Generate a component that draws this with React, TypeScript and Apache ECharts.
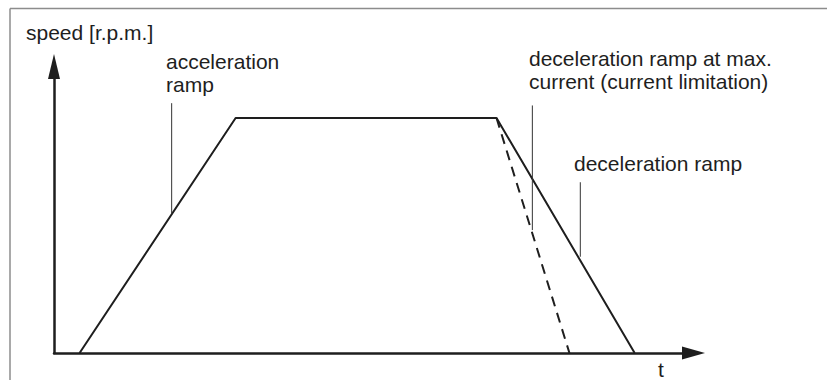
import React, { useEffect, useRef } from "react";
import * as echarts from "echarts";

// profile: time (arbitrary units 0..100) vs speed (0..100)
const rampTime = [4, 28.4, 69.2, 90.8];
const rampSpeed = [0, 82, 82, 0];
const limitTime = [69.2, 80.6];
const limitSpeed = [82, 0];

// leader lines (time, speed pairs)
const accLeaderTime = [18.4, 18.4];
const accLeaderSpeed = [87.2, 48.6];
const limLeaderTime = [74.8, 74.8];
const limLeaderSpeed = [86.4, 42.9];
const decLeaderTime = [82.3, 82.3];
const decLeaderSpeed = [59.6, 33.6];

const yAxisTitle = "speed [r.p.m.]";
const xAxisTitle = "t";
const accLabel = ["acceleration", "ramp"];
const limLabel = ["deceleration ramp at max.", "current (current limitation)"];
const decLabel = ["deceleration ramp"];

const FONT = "'Liberation Sans', Arial, Helvetica, sans-serif";
const INK = "#1e1e1e";

function pairs(xs: number[], ys: number[]) {
  return xs.map((x, i) => [x, ys[i]]);
}

export default function App() {
  const ref = useRef<HTMLDivElement>(null);
  useEffect(() => {
    if (!ref.current) return;
    const chart = echarts.init(ref.current, null, { renderer: "svg" });
    const txt = (text: string, x: number, y: number, align = "left") => ({
      type: "text",
      x,
      y,
      style: {
        text,
        fill: INK,
        font: `21px ${FONT}`,
        align,
        verticalAlign: "top",
        lineHeight: 23,
      },
    });
    const lineSeries = (xs: number[], ys: number[], width: number, type: any = "solid", color = INK) => ({
      type: "line",
      data: pairs(xs, ys),
      symbol: "none",
      silent: true,
      lineStyle: { width, color, type, cap: "butt" },
      z: 3,
    });
    chart.setOption({
      animation: false,
      grid: { left: 54, right: 133.5, top: 66.5, bottom: 27, containLabel: false, outerBoundsMode: "none" },
      xAxis: {
        type: "value",
        min: 0,
        max: 100,
        axisLine: {
          show: true,
          symbol: ["none", "triangle"],
          symbolSize: [13, 23],
          lineStyle: { color: INK, width: 2.5 },
        },
        axisTick: { show: false },
        axisLabel: { show: false },
        splitLine: { show: false },
      },
      yAxis: {
        type: "value",
        min: 0,
        max: 100,
        axisLine: {
          show: true,
          symbol: ["none", "triangle"],
          symbolSize: [12, 25],
          lineStyle: { color: INK, width: 2.5 },
        },
        axisTick: { show: false },
        axisLabel: { show: false },
        splitLine: { show: false },
      },
      series: [
        lineSeries(rampTime, rampSpeed, 2),
        lineSeries(limitTime, limitSpeed, 2, [10, 7]),
        lineSeries(accLeaderTime, accLeaderSpeed, 1, "solid", "#333"),
        lineSeries(limLeaderTime, limLeaderSpeed, 1, "solid", "#333"),
        lineSeries(decLeaderTime, decLeaderSpeed, 1, "solid", "#333"),
      ],
      graphic: [
        { type: "line", shape: { x1: 10, y1: 8.5, x2: 827, y2: 8.5 }, style: { stroke: "#8c8c8c", lineWidth: 1.5 } },
        { type: "line", shape: { x1: 10, y1: 8.5, x2: 10, y2: 380 }, style: { stroke: "#8c8c8c", lineWidth: 1.5 } },
        txt(yAxisTitle, 26, 20.5),
        txt(accLabel.join("\n"), 166, 49.5),
        txt(limLabel.join("\n"), 529, 46.5),
        txt(decLabel.join("\n"), 574, 151.5),
        txt(xAxisTitle, 658, 357.5),
      ],
    });
    return () => chart.dispose();
  }, []);
  return (
    <div
      ref={ref}
      style={{ position: "fixed", left: 0, top: 0, width: 827, height: 380, background: "#fff" }}
    />
  );
}
